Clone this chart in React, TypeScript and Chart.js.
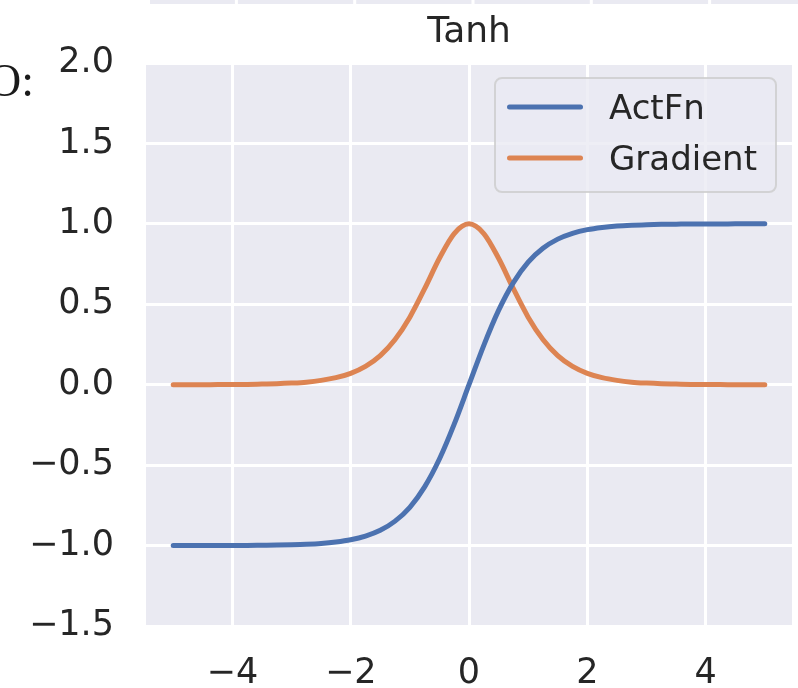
import React, { useEffect, useRef } from "react";
import { Chart, registerables } from "chart.js";

Chart.register(...registerables);

const TITLE = "Tanh";
const SERIES_NAMES = ["ActFn", "Gradient"];
const SERIES_COLORS = ["#4C72B0", "#DD8452"];
const CROPPED_LEFT_TEXT = "O:";

const xValues = [
  -5, -4.75, -4.5, -4.25, -4, -3.75, -3.5, -3.25, -3, -2.75, -2.5, -2.25, -2, -1.75, -1.5, -1.25, -1,
  -0.75, -0.5, -0.25, 0, 0.25, 0.5, 0.75, 1, 1.25, 1.5, 1.75, 2, 2.25, 2.5, 2.75, 3, 3.25, 3.5, 3.75,
  4, 4.25, 4.5, 4.75, 5,
];

const actFnValues = [
  -1.0, -1.0, -1.0, -0.999, -0.999, -0.999, -0.998, -0.997, -0.995, -0.992, -0.987, -0.978, -0.964,
  -0.941, -0.905, -0.848, -0.762, -0.635, -0.462, -0.245, 0.0, 0.245, 0.462, 0.635, 0.762, 0.848,
  0.905, 0.941, 0.964, 0.978, 0.987, 0.992, 0.995, 0.997, 0.998, 0.999, 0.999, 0.999, 1.0, 1.0, 1.0,
];

const gradientValues = [
  0.0, 0.0, 0.0, 0.001, 0.001, 0.002, 0.004, 0.006, 0.01, 0.016, 0.027, 0.044, 0.071, 0.114, 0.181,
  0.281, 0.42, 0.597, 0.786, 0.94, 1.0, 0.94, 0.786, 0.597, 0.42, 0.281, 0.181, 0.114, 0.071, 0.044,
  0.027, 0.016, 0.01, 0.006, 0.004, 0.002, 0.001, 0.001, 0.0, 0.0, 0.0,
];

const xTicks = [-4, -2, 0, 2, 4];
const yTicks = [-1.5, -1.0, -0.5, 0.0, 0.5, 1.0, 1.5, 2.0];
const X_MIN = -5.46;
const X_MAX = 5.46;
const Y_MIN = -1.5;
const Y_MAX = 2.0;

const FONT = "'DejaVu Sans', sans-serif";
const TEXT_COLOR = "#262626";
const PANEL_BG = "#EAEAF2";

function fmtMinus(v: number, digits: number): string {
  const s = Math.abs(v).toFixed(digits);
  return v < 0 ? "\u2212" + s : s;
}

const decorPlugin = {
  id: "decor",
  beforeDraw(chart: any) {
    const { ctx, chartArea: a, scales } = chart;
    ctx.save();
    ctx.fillStyle = PANEL_BG;
    ctx.fillRect(a.left, a.top, a.right - a.left, a.bottom - a.top);
    // strip of the neighbouring panel above (cropped)
    ctx.fillRect(a.left + 4, 0, chart.width - a.left - 4, 4);
    ctx.fillStyle = "#ffffff";
    xTicks.forEach((v) => {
      const px = scales.x.getPixelForValue(v) + 4;
      ctx.fillRect(px - 1.5, 0, 3, 4);
    });
    ctx.restore();
  },
  afterDraw(chart: any) {
    const { ctx, chartArea: a } = chart;
    ctx.save();
    // title
    ctx.fillStyle = TEXT_COLOR;
    ctx.font = `36px ${FONT}`;
    ctx.textAlign = "center";
    ctx.textBaseline = "alphabetic";
    ctx.fillText(TITLE, (a.left + a.right) / 2, 42);

    // cropped text at the left edge
    ctx.fillStyle = "#1a1a1a";
    ctx.font = "46px 'Liberation Serif', serif";
    ctx.textAlign = "left";
    ctx.fillText(CROPPED_LEFT_TEXT, -12, 96);

    // legend
    const w = 281;
    const h = 114;
    const x0 = a.right - 16 - w;
    const y0 = a.top + 15;
    ctx.beginPath();
    ctx.roundRect(x0, y0, w, h, 7);
    ctx.fillStyle = "rgba(234,234,242,0.8)";
    ctx.fill();
    ctx.lineWidth = 2;
    ctx.strokeStyle = "rgba(204,204,204,0.8)";
    ctx.stroke();

    chart.data.datasets.forEach((ds: any, i: number) => {
      const ly = y0 + 29 + i * 51;
      ctx.beginPath();
      ctx.moveTo(x0 + 14.5, ly);
      ctx.lineTo(x0 + 85.5, ly);
      ctx.lineWidth = 5;
      ctx.lineCap = "round";
      ctx.strokeStyle = ds.borderColor;
      ctx.stroke();
      ctx.fillStyle = TEXT_COLOR;
      ctx.font = `34px ${FONT}`;
      ctx.textAlign = "left";
      ctx.textBaseline = "alphabetic";
      ctx.fillText(ds.label, x0 + 114, y0 + 41 + i * 51);
    });
    ctx.restore();
  },
};

export default function App() {
  const canvasRef = useRef<HTMLCanvasElement | null>(null);

  useEffect(() => {
    const canvas = canvasRef.current;
    if (!canvas) return;
    const seriesValues = [actFnValues, gradientValues];
    const chart = new Chart(canvas, {
      type: "line",
      data: {
        datasets: SERIES_NAMES.map((name, i) => ({
          label: name,
          data: xValues.map((x, j) => ({ x, y: seriesValues[i][j] })),
          borderColor: SERIES_COLORS[i],
          backgroundColor: SERIES_COLORS[i],
          borderWidth: 5,
          pointRadius: 0,
          pointHoverRadius: 0,
          cubicInterpolationMode: "monotone",
          borderCapStyle: "round",
          borderJoinStyle: "round",
          fill: false,
        })),
      },
      options: {
        responsive: false,
        animation: false,
        devicePixelRatio: 1,
        events: [],
        layout: { padding: { top: 63, right: 6, left: 0, bottom: 0 } },
        plugins: {
          legend: { display: false },
          title: { display: false },
          tooltip: { enabled: false },
        },
        scales: {
          x: {
            type: "linear",
            min: X_MIN,
            max: X_MAX,
            afterBuildTicks: (s: any) => {
              s.ticks = xTicks.map((v) => ({ value: v }));
            },
            afterFit: (s: any) => {
              s.height = 62;
            },
            grid: { color: "#ffffff", lineWidth: 3, drawTicks: false },
            border: { display: false },
            ticks: {
              autoSkip: false,
              maxRotation: 0,
              padding: 27,
              color: TEXT_COLOR,
              font: { family: FONT, size: 35 },
              callback: (v: any) => fmtMinus(Number(v), 0),
            },
          },
          y: {
            type: "linear",
            min: Y_MIN,
            max: Y_MAX,
            afterBuildTicks: (s: any) => {
              s.ticks = yTicks.map((v) => ({ value: v }));
            },
            afterFit: (s: any) => {
              s.width = 146;
            },
            grid: { color: "#ffffff", lineWidth: 3, drawTicks: false },
            border: { display: false },
            ticks: {
              autoSkip: false,
              padding: 32,
              color: TEXT_COLOR,
              font: { family: FONT, size: 35 },
              callback: (v: any) => fmtMinus(Number(v), 1),
            },
          },
        },
      },
      plugins: [decorPlugin],
    } as any);
    return () => chart.destroy();
  }, []);

  return (
    <div style={{ position: "absolute", left: 0, top: 0, width: 798, height: 688, background: "#fff", overflow: "hidden" }}>
      <canvas ref={canvasRef} width={798} height={688} style={{ display: "block" }} />
    </div>
  );
}
